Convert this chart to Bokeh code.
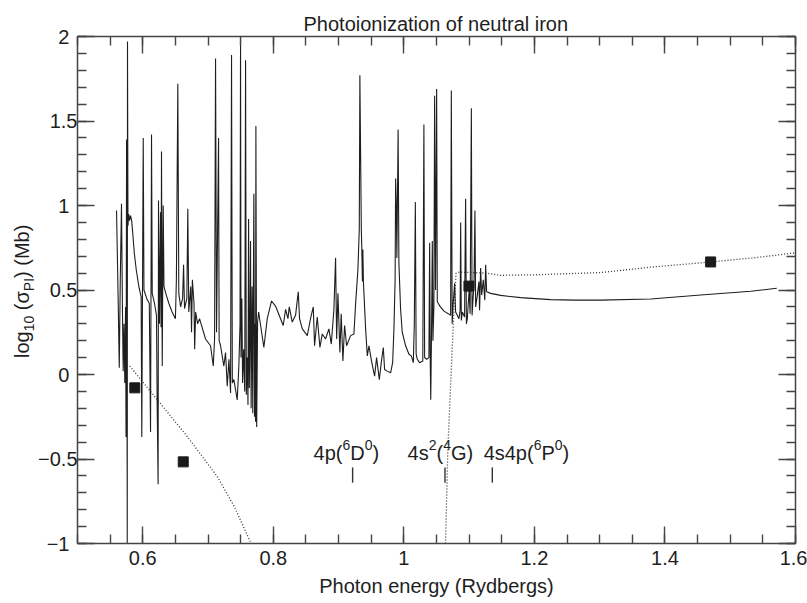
from bokeh.plotting import figure
from bokeh.layouts import row
from bokeh.models import Range1d, LinearAxis, FixedTicker, CustomJSTickFormatter, Label, Title, Div
from bokeh.embed import file_html
from bokeh.resources import INLINE

# ---------------- data ----------------
energy_ryd = [
    0.5598, 0.5625, 0.5640, 0.5655, 0.5674, 0.5688, 0.5700, 0.5712, 0.5725, 0.5736,
    0.5744, 0.5752, 0.5758, 0.5762, 0.5766, 0.5773, 0.5785, 0.5797, 0.5812, 0.5830,
    0.5850, 0.5870, 0.5900, 0.5940, 0.5975, 0.5985, 0.6007, 0.6018, 0.6060, 0.6100,
    0.6119, 0.6134, 0.6145, 0.6180, 0.6210, 0.6221, 0.6235, 0.6241, 0.6255, 0.6272,
    0.6280, 0.6287, 0.6298, 0.6313, 0.6325, 0.6360, 0.6400, 0.6450, 0.6500, 0.6515,
    0.6537, 0.6552, 0.6580, 0.6610, 0.6625, 0.6640, 0.6675, 0.6690, 0.6705, 0.6735,
    0.6747, 0.6760, 0.6785, 0.6795, 0.6810, 0.6840, 0.6870, 0.6885, 0.6962, 0.7038,
    0.7080, 0.7100, 0.7115, 0.7130, 0.7161, 0.7170, 0.7192, 0.7242, 0.7268, 0.7294,
    0.7320, 0.7345, 0.7360, 0.7372, 0.7396, 0.7447, 0.7472, 0.7490, 0.7498, 0.7505,
    0.7518, 0.7529, 0.7545, 0.7562, 0.7575, 0.7586, 0.7600, 0.7612, 0.7621, 0.7632,
    0.7641, 0.7651, 0.7660, 0.7675, 0.7685, 0.7702, 0.7712, 0.7722, 0.7728, 0.7733,
    0.7745, 0.7759, 0.7775, 0.7855, 0.7907, 0.7973, 0.8034, 0.8111, 0.8152, 0.8188,
    0.8224, 0.8244, 0.8290, 0.8341, 0.8382, 0.8402, 0.8444, 0.8520, 0.8570, 0.8612,
    0.8632, 0.8673, 0.8714, 0.8750, 0.8800, 0.8852, 0.8888, 0.8928, 0.8954, 0.8970,
    0.8990, 0.9020, 0.9040, 0.9066, 0.9092, 0.9123, 0.9184, 0.9235, 0.9260, 0.9296,
    0.9317, 0.9326, 0.9348, 0.9355, 0.9365, 0.9372, 0.9380, 0.9414, 0.9440, 0.9465,
    0.9500, 0.9530, 0.9552, 0.9582, 0.9624, 0.9654, 0.9685, 0.9705, 0.9746, 0.9797,
    0.9828, 0.9848, 0.9866, 0.9874, 0.9885, 0.9893, 0.9912, 0.9924, 0.9950, 0.9975,
    1.0027, 1.0078, 1.0114, 1.0145, 1.0160, 1.0176, 1.0188, 1.0206, 1.0240, 1.0290,
    1.0307, 1.0318, 1.0349, 1.0384, 1.0395, 1.0405, 1.0412, 1.0425, 1.0436, 1.0445,
    1.0460, 1.0471, 1.0485, 1.0502, 1.0512, 1.0560, 1.0614, 1.0680, 1.0716, 1.0727,
    1.0740, 1.0757, 1.0778, 1.0793, 1.0844, 1.0862, 1.0870, 1.0880, 1.0896, 1.0930,
    1.0946, 1.0958, 1.0972, 1.1000, 1.1015, 1.1034, 1.1045, 1.1060, 1.1074, 1.1089,
    1.1100, 1.1126, 1.1150, 1.1160, 1.1176, 1.1192, 1.1217, 1.1240, 1.1253, 1.1268,
    1.1330, 1.1483, 1.1789, 1.2249, 1.2632, 1.3015, 1.3782, 1.4548, 1.5314, 1.5713,
]
log_sigma = [
    0.97, 0.40, 0.04, 0.55, 1.01, 0.40, 0.02, 0.30, -0.05, 0.40,
    -0.37, 1.39, 0.20, -1.00, 1.97, 0.88, 0.95, 0.91, 0.94, 0.91,
    0.82, 0.72, 0.62, 0.52, 0.46, -0.37, 1.40, 0.50, 0.45, 0.42,
    -0.34, 1.42, 0.48, 0.42, 0.35, -0.19, -0.65, 1.03, 0.30, 0.96,
    0.28, 1.32, 0.05, 1.00, 0.52, 0.47, 0.42, 0.37, 0.33, 0.56,
    1.72, 0.48, 0.40, 0.45, 0.65, 0.39, 0.45, 0.98, 0.37, 0.52,
    0.25, 0.56, 0.42, 0.15, 0.37, 0.30, 0.33, 0.31, 0.21, 0.17,
    0.05, 0.21, 1.87, 0.25, 1.40, 0.20, 0.17, 0.05, 0.13, -0.07,
    0.09, -0.11, 1.89, -0.05, -0.03, -0.15, 0.05, 0.30, 2.00, 0.10,
    0.45, -0.05, 0.15, -0.10, 1.86, -0.12, 0.10, -0.18, 0.92, -0.08,
    0.20, 0.79, -0.20, 0.52, -0.23, 1.07, -0.25, 0.30, -0.28, 1.47,
    -0.31, 0.31, 0.37, 0.16, 0.33, 0.435, 0.405, 0.33, 0.29, 0.385,
    0.33, 0.40, 0.31, 0.35, 0.49, 0.33, 0.27, 0.23, 0.33, 0.40,
    0.17, 0.34, 0.16, 0.24, 0.21, 0.27, 0.18, 0.385, 0.69, 0.21,
    0.48, 0.13, 0.36, 0.08, 0.29, 0.17, 0.23, 0.24, 0.415, 0.62,
    0.86, 1.77, 0.86, 0.76, 0.55, 0.74, 0.55, 0.27, 0.11, 0.17,
    0.09, 0.03, -0.01, 0.10, -0.03, 0.07, 0.16, 0.03, 0.02, 0.01,
    0.07, 0.27, 0.56, 1.16, 0.98, 0.69, 1.45, 0.66, 0.385, 0.25,
    0.17, 0.12, 0.11, 0.07, 0.30, 1.02, 0.12, 0.09, 0.07, 0.08,
    1.48, 0.10, 0.09, 0.10, 0.78, 0.05, -0.15, 0.30, 0.79, 0.20,
    0.40, 1.65, 0.50, 1.69, 0.43, 0.40, 0.375, 0.36, 0.35, 1.68,
    0.30, 0.43, 0.54, 0.37, 0.33, 0.38, 0.90, 0.32, 0.37, 0.34,
    1.04, 0.30, 0.33, 0.50, 0.36, 1.575, 0.35, 0.45, 0.52, 0.97,
    0.40, 0.47, 0.55, 0.38, 0.63, 0.47, 0.56, 0.44, 0.65, 0.49,
    0.48, 0.468, 0.455, 0.443, 0.440, 0.440, 0.447, 0.470, 0.493, 0.510,
]

# dotted fits (low- and high-energy)
fit_low_x = [0.5800, 0.6220, 0.6680, 0.7140, 0.7400, 0.7660]
fit_low_y = [0.05, -0.148, -0.366, -0.603, -0.78, -1.00]
fit_high_x = [1.0638, 1.0674, 1.0731, 1.0766, 1.0800, 1.0850, 1.1250, 1.1483, 1.2000,
              1.3015, 1.3782, 1.4700, 1.5400, 1.6000]
fit_high_y = [-1.00, -0.44, 0.07, 0.37, 0.60, 0.606, 0.600, 0.587, 0.590,
              0.603, 0.635, 0.666, 0.692, 0.720]

# measured points (filled squares)
meas_x = [0.5878, 0.6620, 1.0997, 1.4700]
meas_y = [-0.079, -0.517, 0.523, 0.666]

# threshold markers
thr_x = [0.9215, 1.0630, 1.1355]
thr_label_x = [0.8617, 1.0057, 1.1222]
thr_labels = [
    [("4p(", "n"), ("6", "sup"), ("D", "n"), ("0", "sup"), (")", "n")],
    [("4s", "n"), ("2", "sup"), ("(", "n"), ("4", "sup"), ("G", "n"), (")", "n")],
    [("4s4p(", "n"), ("6", "sup"), ("P", "n"), ("0", "sup"), (")", "n")],
]

x_major = [0.6, 0.8, 1.0, 1.2, 1.4, 1.6]
x_minor = [0.5, 0.55, 0.6, 0.65, 0.7, 0.75, 0.8, 0.85, 0.9, 0.95, 1.0, 1.05, 1.1,
           1.15, 1.2, 1.25, 1.3, 1.35, 1.4, 1.45, 1.5, 1.55, 1.6]
y_major = [-1.0, -0.5, 0.0, 0.5, 1.0, 1.5, 2.0]
y_major_text = ["\u22121", "\u22120.5", "0", "0.5", "1", "1.5", "2"]
y_minor = [-1.0, -0.9, -0.8, -0.7, -0.6, -0.5, -0.4, -0.3, -0.2, -0.1, 0.0, 0.1, 0.2,
           0.3, 0.4, 0.5, 0.6, 0.7, 0.8, 0.9, 1.0, 1.1, 1.2, 1.3, 1.4, 1.5, 1.6, 1.7,
           1.8, 1.9, 2.0]

title_text = "Photoionization of neutral iron"
xlabel_text = "Photon energy (Rydbergs)"
ylabel_pieces = [("log", "n"), ("10", "sub"), (" (\u03c3", "n"), ("PI", "sub"), (") (Mb)", "n")]

# ---------------- style / layout ----------------
FONT = "Liberation Sans"
TXT = "#1e1e1e"
AX = "#444444"
FS = 20
FS_SMALL = 14
TOP, BOTTOM, RIGHT = 36, 60, 12
STRIP_W, AXIS_W = 34, 43          # strip for y title + left axis panel = 77 px
TOTAL_W, TOTAL_H = 807, 603

W = {'0': 556, '1': 556, '2': 556, '3': 556, '4': 556, '5': 556, '6': 556, '7': 556,
     '8': 556, '9': 556, '(': 333, ')': 333, ' ': 278, 'p': 556, 's': 500, 'D': 722,
     'G': 778, 'P': 667, 'I': 278, 'l': 222, 'o': 556, 'g': 556, 'M': 833, 'b': 556,
     '\u03c3': 600}


def tw(s, size):
    return sum(W.get(c, 556) for c in s) * size / 1000.0


# ---- main plot ----
p = figure(width=TOTAL_W - STRIP_W, height=TOTAL_H, output_backend="svg",
           toolbar_location=None,
           x_range=Range1d(0.5, 1.6), y_range=Range1d(-1.0, 2.0),
           x_axis_location=None, y_axis_location=None, min_border=0,
           min_border_left=AXIS_W, min_border_right=RIGHT, min_border_top=TOP,
           min_border_bottom=BOTTOM)
p.xgrid.visible = False
p.ygrid.visible = False
p.outline_line_color = None

p.title = Title(text=title_text, align="left", vertical_align="top", text_font=FONT,
                text_font_size=f"{FS}px", text_font_style="normal",
                text_color=TXT, offset=226, standoff=0)

fmt_x = CustomJSTickFormatter(code="""
    const v = Math.round(tick * 10) / 10;
    return v.toString();
""")
fmt_blank = CustomJSTickFormatter(code="return '';")


def make_axis(ticks, minor, fmt, standoff):
    ax = LinearAxis(ticker=FixedTicker(ticks=ticks, minor_ticks=minor))
    ax.axis_line_color = AX
    ax.axis_line_width = 1.5
    ax.major_tick_line_color = AX
    ax.major_tick_line_width = 1.4
    ax.minor_tick_line_color = AX
    ax.minor_tick_line_width = 1.4
    ax.major_tick_in = 17
    ax.major_tick_out = 0
    ax.minor_tick_in = 9
    ax.minor_tick_out = 0
    ax.major_label_text_font = FONT
    ax.major_label_text_color = TXT
    ax.major_label_text_font_size = f"{FS}px"
    ax.major_label_standoff = standoff
    ax.formatter = fmt
    return ax


xb = make_axis(x_major, x_minor, fmt_x, 7)
xb.axis_label = xlabel_text
xb.axis_label_text_font = FONT
xb.axis_label_text_font_size = f"{FS}px"
xb.axis_label_text_font_style = "normal"
xb.axis_label_text_color = TXT
xb.axis_label_standoff = 7
p.add_layout(xb, "below")
p.add_layout(make_axis(x_major, x_minor, fmt_blank, 0), "above")

# left axis: integer labels padded with thin spaces so the decimals stick out
yl = make_axis(y_major, y_minor, fmt_blank, 0)
yl.major_label_overrides = {
    v: (t if "." in t else t + "\u2009\u2009") for v, t in zip(y_major, y_major_text)
}
p.add_layout(yl, "left")
p.add_layout(make_axis(y_major, y_minor, fmt_blank, 0), "right")

p.line(fit_low_x, fit_low_y, line_color="#333333", line_width=1.3, line_dash="1 2")
p.line(fit_high_x, fit_high_y, line_color="#333333", line_width=1.3, line_dash="1 2")
p.line(energy_ryd, log_sigma, line_color="#1e1e1e", line_width=1.1)
p.scatter(meas_x, meas_y, marker="square", size=10, fill_color="#1a1a1a",
          line_color="#1a1a1a")
p.segment(x0=thr_x, y0=[-0.55] * len(thr_x), x1=thr_x, y1=[-0.64] * len(thr_x),
          line_color="#333333", line_width=1.4)


def rich(x, y, pieces):
    adv = 0.0
    for text, kind in pieces:
        size = FS if kind == "n" else FS_SMALL
        shift = 0 if kind == "n" else 8
        lab = Label(x=x, y=y, text=text, x_offset=adv, y_offset=shift)
        lab.text_font = FONT
        lab.text_font_size = f"{size}px"
        lab.text_color = TXT
        lab.text_baseline = "alphabetic"
        lab.text_align = "left"
        p.add_layout(lab)
        adv += tw(text, size)


for lx, pcs in zip(thr_label_x, thr_labels):
    rich(lx, -0.462, pcs)

# ---- left strip: rotated y-axis title as real HTML text with subscripts ----
html_parts = []
for text, kind in ylabel_pieces:
    if kind == "sub":
        html_parts.append(f'<sub style="font-size:{FS_SMALL}px;line-height:0">{text}</sub>')
    else:
        html_parts.append(text)
ylabel_html = (
    '<div style="position:absolute;left:12px;top:358px;transform-origin:0 0;'
    'transform:rotate(-90deg);white-space:nowrap;'
    f"font-family:'{FONT}';font-size:{FS}px;line-height:{FS}px;color:{TXT};\">"
    + "".join(html_parts) + "</div>"
)
strip = Div(text=ylabel_html, width=STRIP_W, height=TOTAL_H, margin=0)

layout = row(strip, p, spacing=0)
open("out.html", "w").write(file_html(layout, INLINE))
